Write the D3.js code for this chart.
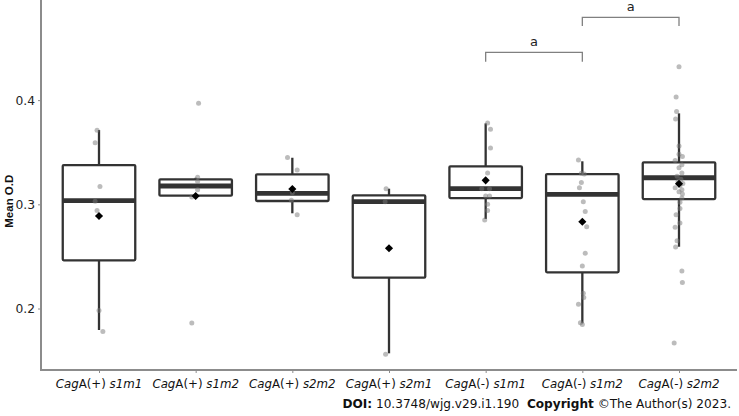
<!DOCTYPE html>
<html>
<head>
<meta charset="utf-8">
<script src="https://cdn.jsdelivr.net/npm/d3@7"></script>
<style>
  html, body { margin: 0; padding: 0; background: #fff; }
  svg { display: block; }
  text { white-space: pre; }
</style>
</head>
<body>
<svg id="chart" width="739" height="416"></svg>
<script>
// ---------------- data ----------------
const categories = ["CagA(+) s1m1", "CagA(+) s1m2", "CagA(+) s2m2", "CagA(+) s2m1", "CagA(-) s1m1", "CagA(-) s1m2", "CagA(-) s2m2"];
const cagStatus = ["(+)", "(+)", "(+)", "(+)", "(-)", "(-)", "(-)"];
const subtypes = ["s1m1", "s1m2", "s2m2", "s2m1", "s1m1", "s1m2", "s2m2"];

// box statistics
const whiskerLow  = [0.1794, 0.3070, 0.2914, 0.1570, 0.2859, 0.1858, 0.2593];
const q1          = [0.2463, 0.3083, 0.3032, 0.2296, 0.3060, 0.2347, 0.3050];
const medians     = [0.3035, 0.3176, 0.3106, 0.3025, 0.3150, 0.3096, 0.3255];
const q3          = [0.3377, 0.3240, 0.3288, 0.3086, 0.3365, 0.3290, 0.3403];
const whiskerHigh = [0.3713, 0.3255, 0.3447, 0.3150, 0.3777, 0.3413, 0.3873];
const means       = [0.2888, 0.3080, 0.3147, 0.2578, 0.3230, 0.2833, 0.3198];

// individual observations (value) and their horizontal jitter (in category steps)
const pointValues = [
  [0.371, 0.359, 0.317, 0.303, 0.294, 0.198, 0.178],
  [0.397, 0.326, 0.322, 0.314, 0.307, 0.186],
  [0.345, 0.333, 0.311, 0.304, 0.290],
  [0.315, 0.3025, 0.156],
  [0.378, 0.372, 0.354, 0.330, 0.315, 0.315, 0.308, 0.308, 0.300, 0.294, 0.285],
  [0.3425, 0.3298, 0.329, 0.321, 0.316, 0.3025, 0.293, 0.2785, 0.253, 0.2408, 0.2146, 0.2107, 0.204, 0.1864, 0.1846],
  [0.432, 0.403, 0.389, 0.382, 0.356, 0.348, 0.346, 0.342, 0.338, 0.335, 0.330, 0.327, 0.324, 0.322, 0.320, 0.318, 0.316, 0.314, 0.312, 0.310, 0.306, 0.302, 0.296, 0.290, 0.282, 0.278, 0.265, 0.259, 0.236, 0.225, 0.167]
];
const pointJitter = [
  [-0.02, -0.04, 0.01, -0.04, -0.02, 0.00, 0.04],
  [0.03, 0.02, 0.02, 0.02, -0.04, -0.04],
  [-0.05, 0.05, 0.00, -0.01, 0.05],
  [-0.03, -0.04, -0.035],
  [0.02, 0.05, 0.05, 0.02, -0.04, 0.04, 0.00, 0.04, 0.02, 0.02, -0.01],
  [-0.04, -0.01, 0.02, -0.01, -0.03, 0.01, 0.03, 0.045, 0.03, 0.00, 0.01, 0.015, -0.04, -0.02, 0.00],
  [0.00, -0.03, -0.025, -0.035, 0.00, 0.00, 0.035, -0.04, 0.03, 0.00, 0.03, -0.02, 0.02, -0.01, 0.04, 0.01, -0.04, 0.03, 0.00, 0.035, 0.03, 0.01, 0.01, -0.03, 0.01, -0.04, -0.02, -0.035, 0.03, 0.035, -0.05]
];

const yTicks = [0.2, 0.3, 0.4];
const yLabel = "Mean O.D";

// significance brackets
const bracketFrom = [4, 5];
const bracketTo = [5, 6];
const bracketTop = [0.4459, 0.4795];
const bracketBottom = [0.4369, 0.4711];
const bracketLabels = ["a", "a"];

const doiText = "10.3748/wjg.v29.i1.190";
const copyrightText = "©The Author(s) 2023.";

// ---------------- layout ----------------
const svg = d3.select("#chart");
const margin = { left: 41, right: 2, top: 0, bottom: 46 };
const W = 739, H = 416;
const plotBottom = H - margin.bottom; // 370

const x = d3.scalePoint().domain(categories).range([margin.left, W - margin.right]).padding(0.6);
const y = d3.scaleLinear().domain([0.141, 0.4961]).range([plotBottom, margin.top]);
const step = x.step();
const boxW = step * 0.75;

const FONT = "'DejaVu Sans', Verdana, sans-serif";
const boxColor = "#333333";
const axisColor = "#8c8c8c";

// ---------------- axes ----------------
const yAxis = d3.axisLeft(y).tickValues(yTicks).tickFormat(d3.format(".1f")).tickSize(3).tickPadding(3);
const gy = svg.append("g").attr("transform", `translate(${margin.left},0)`).call(yAxis);
gy.select(".domain").attr("stroke", axisColor).attr("stroke-width", 2).attr("d", `M0,0V${plotBottom}`);
gy.selectAll(".tick line").attr("stroke", axisColor).attr("stroke-width", 1);
gy.selectAll(".tick text").attr("fill", "#222").style("font-family", FONT).style("font-size", "12.3px");

const xAxis = d3.axisBottom(x).tickSize(3).tickFormat("");
const gx = svg.append("g").attr("transform", `translate(0,${plotBottom})`).call(xAxis);
gx.select(".domain").attr("stroke", axisColor).attr("stroke-width", 2).attr("d", `M${margin.left - 1},0H${W - margin.right}`);
gx.selectAll(".tick line").attr("stroke", axisColor).attr("stroke-width", 1);

// x labels with mixed italics
const xl = svg.append("g");
categories.forEach((c, i) => {
  const t = xl.append("text")
    .attr("x", x(c)).attr("y", plotBottom + 17.5)
    .attr("text-anchor", "middle")
    .style("font-family", FONT).style("font-size", "11.8px").attr("fill", "#111");
  t.append("tspan").style("font-style", "italic").text("Cag");
  t.append("tspan").text("A" + cagStatus[i]);
  t.append("tspan").style("font-style", "italic").text(" " + subtypes[i]);
});

// y label
svg.append("text")
  .attr("transform", `translate(13,${y(0.303)}) rotate(-90)`)
  .attr("text-anchor", "middle")
  .style("font-family", "'Liberation Sans', Arial, sans-serif")
  .style("font-size", "11.5px").style("font-weight", "bold")
  .attr("fill", "#111")
  .text(yLabel);

// ---------------- boxes ----------------
const gb = svg.append("g");
categories.forEach((c, i) => {
  const cx = x(c);
  gb.append("line").attr("x1", cx).attr("x2", cx).attr("y1", y(q3[i])).attr("y2", y(whiskerHigh[i]))
    .attr("stroke", boxColor).attr("stroke-width", 2.3);
  gb.append("line").attr("x1", cx).attr("x2", cx).attr("y1", y(q1[i])).attr("y2", y(whiskerLow[i]))
    .attr("stroke", boxColor).attr("stroke-width", 2.3);
  gb.append("rect").attr("x", cx - boxW / 2).attr("y", y(q3[i]))
    .attr("width", boxW).attr("height", y(q1[i]) - y(q3[i]))
    .attr("rx", 1)
    .attr("fill", "white").attr("stroke", boxColor).attr("stroke-width", 2.3);
  gb.append("line").attr("x1", cx - boxW / 2).attr("x2", cx + boxW / 2)
    .attr("y1", y(medians[i])).attr("y2", y(medians[i]))
    .attr("stroke", boxColor).attr("stroke-width", 4.8);
});

// ---------------- jittered points ----------------
const gp = svg.append("g");
pointValues.forEach((vals, i) => {
  vals.forEach((v, j) => {
    gp.append("circle")
      .attr("cx", x(categories[i]) + pointJitter[i][j] * step)
      .attr("cy", y(v)).attr("r", 2.5)
      .attr("fill", "#7a7a7a").attr("fill-opacity", 0.5);
  });
});

// ---------------- means ----------------
const diamond = d3.symbol().type(d3.symbolDiamond2).size(42);
categories.forEach((c, i) => {
  svg.append("path").attr("d", diamond)
    .attr("transform", `translate(${x(c)},${y(means[i])})`)
    .attr("fill", "#000");
});

// ---------------- significance brackets ----------------
const gs = svg.append("g");
bracketLabels.forEach((lab, k) => {
  const x1 = x(categories[bracketFrom[k]]), x2 = x(categories[bracketTo[k]]);
  gs.append("path")
    .attr("d", `M${x1},${y(bracketBottom[k])}V${y(bracketTop[k])}H${x2}V${y(bracketBottom[k])}`)
    .attr("fill", "none").attr("stroke", "#808080").attr("stroke-width", 1.3);
  gs.append("text").attr("x", (x1 + x2) / 2).attr("y", y(bracketTop[k]) - 6)
    .attr("text-anchor", "middle")
    .style("font-family", FONT).style("font-size", "13px").attr("fill", "#222")
    .text(lab);
});

// ---------------- footer ----------------
const ft = svg.append("text")
  .attr("x", 731).attr("y", 407.5).attr("text-anchor", "end")
  .style("font-family", FONT).style("font-size", "12.1px").attr("fill", "#111");
ft.append("tspan").style("font-weight", "bold").text("DOI:");
ft.append("tspan").text(" " + doiText + "  ");
ft.append("tspan").style("font-weight", "bold").text("Copyright");
ft.append("tspan").text(" " + copyrightText);
</script>
</body>
</html>
